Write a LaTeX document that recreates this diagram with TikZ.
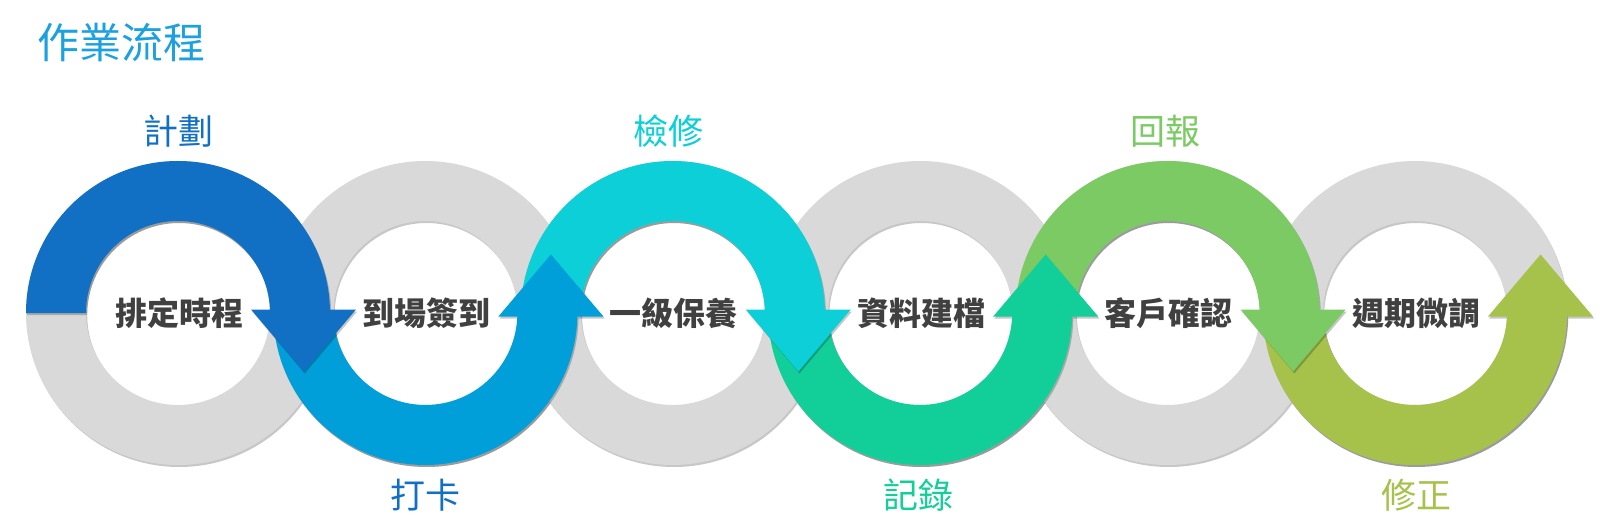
\documentclass[tikz,border=0pt]{standalone}
\usepackage{fontspec}
\newfontfamily\cjk{Noto Sans CJK TC}
\usetikzlibrary{shadows}
\definecolor{ringgrey}{HTML}{D9D9D9}
\definecolor{cA}{HTML}{1270C4}
\definecolor{cB}{HTML}{009FD9}
\definecolor{cC}{HTML}{0CCFD8}
\definecolor{cD}{HTML}{12CE99}
\definecolor{cE}{HTML}{7BCA63}
\definecolor{cF}{HTML}{A6C24A}
\definecolor{txt}{HTML}{404040}
\definecolor{titlecol}{HTML}{1BA0E0}
\tikzset{
  softshadow/.style={drop shadow={shadow xshift=1.2pt,shadow yshift=-2pt,opacity=0.22,fill=black}},
  steptext/.style={font=\cjk\bfseries\fontsize{32}{32}\selectfont,text=txt,inner sep=0pt},
  phaselabel/.style={font=\cjk\fontsize{35}{35}\selectfont,inner sep=0pt},
  titletext/.style={font=\cjk\fontsize{42}{42}\selectfont,text=titlecol,inner sep=0pt}
}
\begin{document}
\begin{tikzpicture}[x=1pt,y=1pt]
\useasboundingbox (0,0) rectangle (1600,520);
\fill[white] (0,0) rectangle (1600,520);
% grey rings
\foreach \i in {0,...,5}{
  \pgfmathsetmacro\cx{178+247.4*\i}
  \fill[ringgrey,softshadow] (\cx+152,207) arc[start angle=0,end angle=360,radius=152]
    -- (\cx+92,207) arc[start angle=360,end angle=0,radius=92] -- cycle;
}
% coloured arrows (band + head as one shape), drawn from last to first
\foreach \i/\col/\s in {5/cF/-1,4/cE/1,3/cD/-1,2/cC/1,1/cB/-1,0/cA/1}{
  \pgfmathsetmacro\cx{178+247.4*\i}
  \pgfmathsetmacro\ea{180-180*\s}
  \pgfmathsetmacro\by{207+3.5*\s}
  \pgfmathsetmacro\ty{207-58.5*\s}
  \fill[\col,softshadow] (\cx-152,207) arc[start angle=180,end angle=\ea,radius=152]
    -- (\cx+92,207) arc[start angle=\ea,end angle=180,radius=92] -- cycle
    (\cx+73,\by) -- (\cx+178,\by) -- (\cx+125.5,\ty) -- cycle;
}
% step texts
\foreach \i/\t in {0/排定時程,1/到場簽到,2/一級保養,3/資料建檔,4/客戶確認,5/週期微調}{
  \pgfmathsetmacro\cx{178+247.4*\i}
  \node[steptext] (step\i) at (\cx+1,207) {\t};
}
% phase labels
\node[phaselabel,text=cA] (lab0) at (178,389) {計劃};
\node[phaselabel,text=cA] (lab1) at (425.4,25) {打卡};
\node[phaselabel,text=cC] (lab2) at (668.8,389) {檢修};
\node[phaselabel,text=cD] (lab3) at (918,25) {記錄};
\node[phaselabel,text=cE] (lab4) at (1165,389) {回報};
\node[phaselabel,text=cF] (lab5) at (1416,25) {修正};
% title
\node[titletext] (title) at (121,477) {作業流程};
\end{tikzpicture}
\end{document}
